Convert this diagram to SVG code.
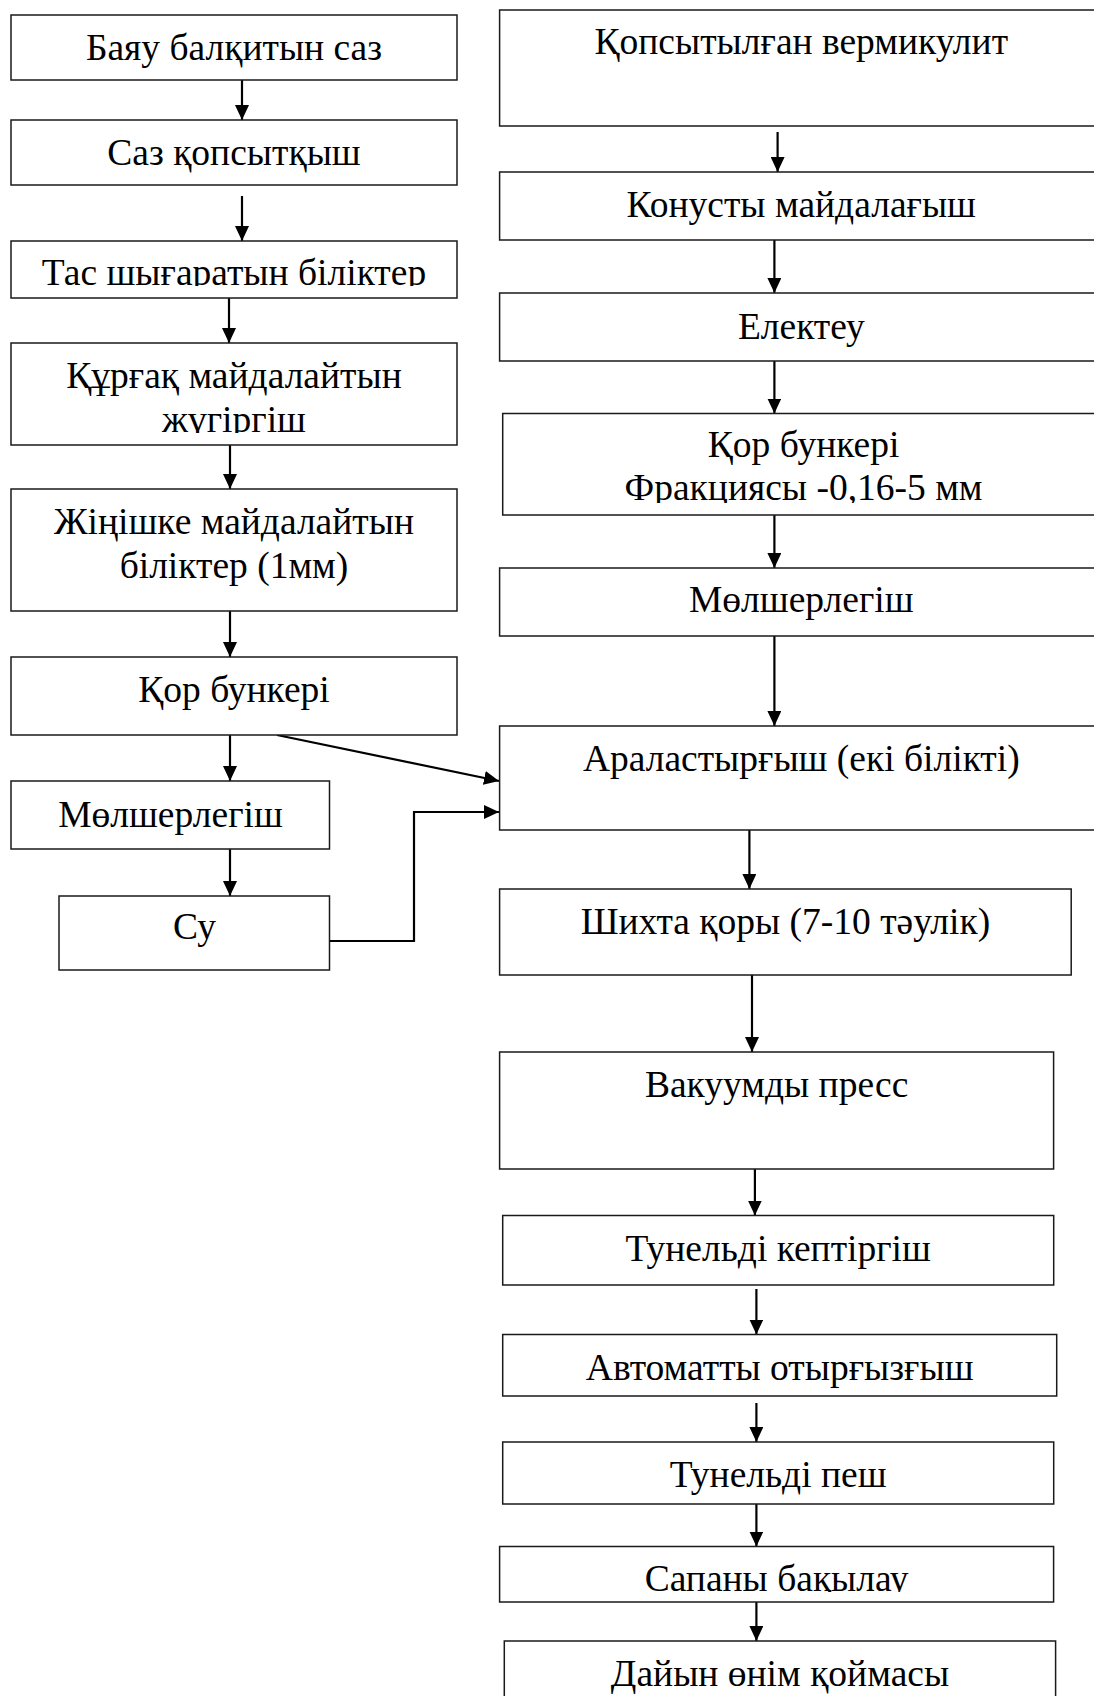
<svg xmlns="http://www.w3.org/2000/svg" width="1094" height="1696" viewBox="0 0 1094 1696">
<style>
.box{fill:#fff;stroke:#1a1a1a;stroke-width:1.5}
.t{font-family:"Liberation Serif","Times New Roman",serif;font-size:37.5px;fill:#000;text-anchor:middle}
.c{fill:none;stroke:#000;stroke-width:2.2}
</style>
<defs>
<marker id="ah" markerUnits="userSpaceOnUse" markerWidth="15" markerHeight="14" refX="15" refY="7" orient="auto">
<path d="M0,0 L15,7 L0,14 z" fill="#000"/>
</marker>
<clipPath id="cB3"><rect x="11" y="241" width="446" height="45"/></clipPath>
<clipPath id="cB4"><rect x="11" y="343" width="446" height="90"/></clipPath>
<clipPath id="cR4"><rect x="502.7" y="413.3" width="602" height="89.7"/></clipPath>
<clipPath id="cR12"><rect x="499.6" y="1546.5" width="554" height="45.5"/></clipPath>
</defs>
<rect width="1094" height="1696" fill="#fff"/>

<g id="connectors">
<line class="c" x1="242" y1="80" x2="242" y2="120" marker-end="url(#ah)"/>
<line class="c" x1="242" y1="196" x2="242" y2="241" marker-end="url(#ah)"/>
<line class="c" x1="229" y1="298" x2="229" y2="343" marker-end="url(#ah)"/>
<line class="c" x1="230" y1="445" x2="230" y2="489" marker-end="url(#ah)"/>
<line class="c" x1="230" y1="611" x2="230" y2="657" marker-end="url(#ah)"/>
<line class="c" x1="230" y1="735" x2="230" y2="781" marker-end="url(#ah)"/>
<line class="c" x1="230" y1="849" x2="230" y2="896" marker-end="url(#ah)"/>
<line class="c" x1="277" y1="735" x2="499" y2="781" marker-end="url(#ah)"/>
<polyline class="c" points="330,941 414,941 414,812 499,812" marker-end="url(#ah)"/>
<line class="c" x1="777.6" y1="132" x2="777.6" y2="172" marker-end="url(#ah)"/>
<line class="c" x1="774.4" y1="240" x2="774.4" y2="293" marker-end="url(#ah)"/>
<line class="c" x1="774.4" y1="361" x2="774.4" y2="413.5" marker-end="url(#ah)"/>
<line class="c" x1="774.4" y1="515" x2="774.4" y2="568" marker-end="url(#ah)"/>
<line class="c" x1="774.4" y1="636" x2="774.4" y2="726" marker-end="url(#ah)"/>
<line class="c" x1="749.4" y1="830" x2="749.4" y2="889" marker-end="url(#ah)"/>
<line class="c" x1="752" y1="975" x2="752" y2="1052" marker-end="url(#ah)"/>
<line class="c" x1="754.9" y1="1169" x2="754.9" y2="1215.5" marker-end="url(#ah)"/>
<line class="c" x1="756.4" y1="1289" x2="756.4" y2="1334.5" marker-end="url(#ah)"/>
<line class="c" x1="756.4" y1="1403" x2="756.4" y2="1442" marker-end="url(#ah)"/>
<line class="c" x1="756.4" y1="1504" x2="756.4" y2="1546.5" marker-end="url(#ah)"/>
<line class="c" x1="756.4" y1="1600" x2="756.4" y2="1641" marker-end="url(#ah)"/>
</g>

<g id="n1"><rect class="box" x="11" y="15" width="446" height="65"/><text class="t" x="234" y="60">Баяу балқитын саз</text></g>
<g id="n2"><rect class="box" x="11" y="120" width="446" height="65"/><text class="t" x="234" y="165">Саз қопсытқыш</text></g>
<g id="n3"><rect class="box" x="11" y="241" width="446" height="57"/><text class="t" x="234" y="285" clip-path="url(#cB3)">Тас шығаратын біліктер</text></g>
<g id="n4"><rect class="box" x="11" y="343" width="446" height="102"/><g clip-path="url(#cB4)"><text class="t" x="234" y="388">Құрғақ майдалайтын</text><text class="t" x="234" y="432">жүгіргіш</text></g></g>
<g id="n5"><rect class="box" x="11" y="489" width="446" height="122"/><text class="t" x="234" y="534">Жіңішке майдалайтын</text><text class="t" x="234" y="578">біліктер (1мм)</text></g>
<g id="n6"><rect class="box" x="11" y="657" width="446" height="78"/><text class="t" x="234" y="702">Қор бункері</text></g>
<g id="n7"><rect class="box" x="11" y="781" width="318.5" height="68"/><text class="t" x="170.5" y="827">Мөлшерлегіш</text></g>
<g id="n8"><rect class="box" x="59" y="896" width="270.5" height="74"/><text class="t" x="194.5" y="939">Су</text></g>

<g id="r1"><rect class="box" x="499.6" y="10" width="603.4" height="116"/><text class="t" x="801.3" y="54">Қопсытылған вермикулит</text></g>
<g id="r2"><rect class="box" x="499.6" y="172" width="603.4" height="68"/><text class="t" x="801.3" y="217">Конусты майдалағыш</text></g>
<g id="r3"><rect class="box" x="499.6" y="293" width="603.4" height="68"/><text class="t" x="801.3" y="338.5">Електеу</text></g>
<g id="r4"><rect class="box" x="502.7" y="413.5" width="601.8" height="101.5"/><g clip-path="url(#cR4)"><text class="t" x="803.6" y="457">Қор бункері</text><text class="t" x="803.6" y="500">Фракциясы -0,16-5 мм</text></g></g>
<g id="r5"><rect class="box" x="499.6" y="568" width="603.4" height="68"/><text class="t" x="801.3" y="612">Мөлшерлегіш</text></g>
<g id="r6"><rect class="box" x="499.6" y="726" width="603.4" height="104"/><text class="t" x="801.3" y="771">Араластырғыш (екі білікті)</text></g>
<g id="r7"><rect class="box" x="499.6" y="889" width="571.6" height="86"/><text class="t" x="785.4" y="934">Шихта қоры (7-10 тәулік)</text></g>
<g id="r8"><rect class="box" x="499.6" y="1052" width="554" height="117"/><text class="t" x="776.6" y="1097">Вакуумды пресс</text></g>
<g id="r9"><rect class="box" x="502.7" y="1215.5" width="551" height="69.5"/><text class="t" x="778.2" y="1261">Тунельді кептіргіш</text></g>
<g id="r10"><rect class="box" x="502.7" y="1334.5" width="554" height="61.5"/><text class="t" x="779.7" y="1380">Автоматты отырғызғыш</text></g>
<g id="r11"><rect class="box" x="502.7" y="1442" width="551" height="62"/><text class="t" x="778.2" y="1487">Тунельді пеш</text></g>
<g id="r12"><rect class="box" x="499.6" y="1546.5" width="554" height="55.5"/><text class="t" x="776.6" y="1591" clip-path="url(#cR12)">Сапаны бақылау</text></g>
<g id="r13"><rect class="box" x="504.3" y="1641" width="551.3" height="70"/><text class="t" x="780" y="1686">Дайын өнім қоймасы</text></g>
</svg>
